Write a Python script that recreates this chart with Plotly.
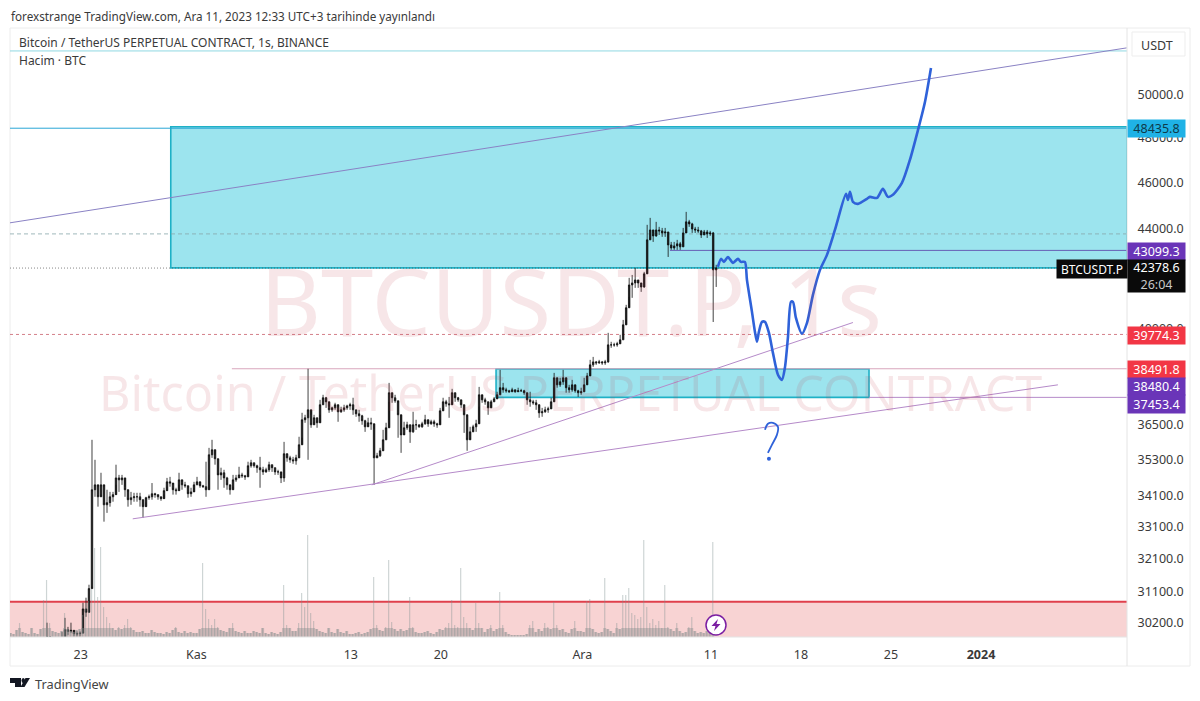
import datetime as dt
import numpy as np
import pandas as pd
import plotly.graph_objects as go

# price bars (log scale, USDT)
bar_high = [
    30200, 29700, 29700, 29700, 29790, 29930, 30340, 30080, 30200, 29940,
    29950, 29950, 30780, 30930, 31315, 35965, 35285, 34390, 34850, 34390,
    34290, 34220, 34220, 35120, 34780, 34780, 34390, 34220, 34220, 34190,
    34190, 34190, 33800, 34060, 34130, 34510, 34190, 34130, 34060, 34355,
    34680, 34715, 34450, 34355, 34850, 34550, 34550, 34355, 34355, 34550,
    34715, 34510, 34450, 35220, 35690, 35965, 35455, 35285, 35020, 34950,
    34715, 34390, 34780, 34780, 35050, 34850, 34780, 35220, 35285, 35185,
    35120, 35385, 35050, 35020, 35220, 35120, 35020, 34950, 34780, 35895,
    35455, 35420, 35385, 35455, 36070, 36905, 36835, 38490, 36835, 36835,
    36730, 37365, 37545, 37470, 37120, 37120, 37260, 37120, 37120, 37190,
    37190, 37260, 37440, 37010, 37010, 36835, 36660, 36730, 36730, 36345,
    35520, 35690, 36310, 36555, 37975, 37620, 37545, 37260, 36380, 36590,
    36590, 36485, 36940, 36660, 36485, 36590, 36835, 36590, 36660, 36660,
    36555, 37080, 37440, 37365, 37470, 37760, 37620, 37470, 37365, 37190,
    36765, 36415, 36485, 36660, 37830, 37440, 37440, 37295, 37365, 37470,
    37655, 38450, 37975, 37800, 37725, 37800, 37725, 37800, 37760, 37725,
    37620, 37655, 37365, 37365, 37080, 37080, 37120, 37120, 37440, 38340,
    38160, 38160, 38450, 37975, 37905, 38085, 37830, 37725, 37800, 38160,
    38340, 38820, 38930, 38780, 38820, 38780, 38820, 39835, 39495, 39460,
    39495, 39760, 40330, 40915, 41985, 42100, 42385, 41900, 41780, 42225,
    44165, 44460, 43825, 44290, 44080, 44035, 44035, 43865, 43450, 43450,
    43535, 43450, 44035, 44715, 44375, 44250, 44080, 44080, 43950, 43950,
    43950, 43910, 43865, 42510,
]
bar_low = [
    29800, 29500, 29500, 29500, 29500, 29700, 29800, 29850, 29900, 29800,
    29800, 29800, 30370, 30370, 30575, 31255, 34060, 33740, 34130, 33260,
    33540, 33740, 33900, 34450, 34220, 34450, 34060, 33740, 33800, 33900,
    33900, 33740, 33380, 33870, 33965, 33965, 34030, 33965, 33930, 34130,
    34390, 34390, 34130, 34130, 34450, 34290, 34355, 34030, 34060, 34355,
    34450, 34355, 34355, 34060, 34780, 35350, 35120, 34290, 34615, 34355,
    34290, 34130, 34390, 34550, 34680, 34680, 34615, 34950, 35020, 35020,
    34850, 34355, 34780, 34850, 34880, 34880, 34780, 34780, 34510, 34550,
    35220, 35185, 35150, 35120, 35385, 36035, 36555, 35285, 36380, 36590,
    36380, 36835, 37190, 37080, 36905, 36940, 37010, 36590, 36905, 36940,
    37010, 37010, 36835, 36765, 36590, 36485, 36240, 36485, 36310, 34450,
    35350, 35385, 35625, 35965, 37295, 37260, 37260, 36035, 35520, 36205,
    36310, 35860, 36205, 36310, 36380, 36380, 36485, 36415, 36485, 36415,
    36380, 36660, 37080, 37120, 36730, 37295, 37295, 37295, 37080, 36205,
    35590, 36035, 36310, 36240, 37120, 37260, 37190, 36835, 37190, 37295,
    37440, 37545, 37620, 37620, 37620, 37655, 37620, 37655, 37655, 37545,
    37190, 37120, 37190, 37010, 36730, 36765, 36905, 36905, 37080, 37800,
    37800, 37830, 37905, 37620, 37620, 37655, 37620, 37470, 37545, 37655,
    38160, 38340, 38560, 38635, 38670, 38635, 38635, 38710, 39270, 39310,
    39310, 39460, 39570, 40330, 41225, 41190, 41585, 41585, 41425, 41585,
    42225, 43615, 43450, 43660, 43740, 43660, 43660, 42830, 43120, 43120,
    43120, 43120, 43450, 43865, 44080, 43825, 43825, 43825, 43615, 43740,
    43615, 43700, 40250, 41620,
]
bar_close = [
    29800, 29600, 29600, 29600, 29600, 29750, 30000, 29950, 29980, 29880,
    29880, 29900, 30600, 30500, 31200, 34290, 34450, 34060, 34450, 33800,
    33870, 34060, 34130, 34680, 34615, 34680, 34290, 33965, 34030, 34060,
    34060, 33965, 33740, 34030, 34060, 34160, 34130, 34060, 34000, 34260,
    34550, 34510, 34290, 34260, 34615, 34450, 34420, 34160, 34220, 34450,
    34550, 34420, 34390, 34290, 35455, 35625, 35320, 34780, 34850, 34680,
    34450, 34290, 34615, 34680, 34780, 34750, 34715, 35085, 35185, 35085,
    35020, 34950, 34880, 34950, 35120, 35020, 34880, 34880, 34680, 35490,
    35350, 35285, 35250, 35350, 35795, 36660, 36730, 37010, 36485, 36730,
    36555, 37190, 37440, 37295, 37010, 37080, 37190, 36940, 37010, 37080,
    37150, 37190, 37010, 36870, 36800, 36625, 36415, 36555, 36520, 35350,
    35420, 35590, 35965, 36380, 37620, 37440, 37330, 36835, 36135, 36380,
    36485, 36240, 36485, 36485, 36415, 36520, 36660, 36520, 36590, 36520,
    36485, 36975, 37295, 37225, 37190, 37620, 37440, 37365, 37190, 36835,
    35965, 36240, 36415, 36520, 37545, 37365, 37295, 37080, 37295, 37400,
    37545, 37800, 37725, 37690, 37655, 37725, 37655, 37690, 37690, 37620,
    37365, 37295, 37260, 37190, 36905, 36940, 37010, 37045, 37295, 38160,
    37905, 38015, 38160, 37800, 37725, 37905, 37690, 37620, 37655, 37905,
    38230, 38635, 38745, 38710, 38745, 38710, 38745, 39380, 39380, 39380,
    39420, 39570, 40140, 40800, 41700, 41780, 41900, 41780, 41620, 42145,
    43535, 43950, 43700, 43950, 43910, 43825, 43865, 43325, 43200, 43285,
    43370, 43245, 43825, 44290, 44205, 43990, 43950, 43910, 43740, 43865,
    43780, 43825, 42305, 42378.6,
]
bar_start = "2023-10-20 09:00"

# volume, no scale on the picture so the unit is arbitrary
volume = [
    4, 3, 7, 14, 5, 4, 3, 9, 4, 3,
    8, 37, 57, 14, 6, 5, 4, 6, 24, 8,
    6, 5, 7, 8, 22, 30, 36, 48, 89, 40,
    90, 30, 20, 14, 9, 7, 10, 8, 12, 18,
    10, 7, 5, 5, 6, 4, 4, 7, 5, 4,
    4, 3, 5, 4, 7, 10, 5, 4, 6, 4,
    5, 4, 4, 8, 74, 28, 18, 12, 18, 10,
    7, 6, 5, 9, 14, 6, 5, 4, 6, 4,
    4, 6, 5, 4, 9, 4, 3, 5, 4, 3,
    5, 52, 12, 9, 6, 6, 14, 44, 30, 102,
    24, 16, 8, 6, 5, 4, 9, 5, 4, 8,
    5, 4, 6, 3, 3, 4, 5, 3, 4, 5,
    8, 60, 12, 7, 6, 10, 77, 15, 8, 6,
    8, 6, 7, 40, 10, 5, 4, 4, 5, 6,
    4, 3, 5, 8, 7, 10, 14, 37, 12, 10,
    69, 20, 14, 9, 7, 34, 14, 9, 5, 8,
    12, 6, 8, 45, 12, 5, 3, 2, 2, 2,
    2, 2, 3, 12, 16, 5, 8, 6, 14, 10,
    8, 35, 12, 7, 8, 5, 4, 8, 16, 6,
    6, 5, 36, 38, 8, 5, 4, 5, 59, 8,
    6, 4, 14, 8, 42, 42, 49, 24, 22, 18,
    20, 97, 30, 14, 18, 12, 16, 9, 52, 10,
    8, 6, 14, 6, 4, 5, 10, 20, 6, 4,
    5, 4, 6, 7, 95,
]
volume_start = "2023-10-17 13:00"

# hand drawn forecast, days after Dec 11 and price
forecast_days = [0.54, 0.78, 1.01, 1.32, 1.71, 2.10, 2.33, 2.64, 2.80, 3.19, 3.42, 3.58, 3.73, 3.97, 4.20, 4.51,
                 4.82, 5.21, 5.52, 5.75, 5.99, 6.22, 6.38, 6.61, 7.08, 7.47, 7.93, 8.48, 9.02, 9.64, 10.50, 10.65,
                 10.81, 11.04, 11.43, 12.13, 12.36, 12.91, 13.37, 13.76, 14.15, 14.85, 15.47, 16.10, 16.64, 17.11]
forecast_price = [42425, 42750, 42630, 42830, 42590, 42750, 42630, 42630, 41900, 40640, 39875, 39495, 39875, 40255,
                  40255, 39835, 39080, 38270, 38085, 38525, 39685, 41030, 41030, 40405, 39800, 40215, 41305, 42305,
                  42915, 43950, 45490, 45230, 45580, 45145, 45060, 45275, 45360, 45315, 45710, 45360, 45450, 45970,
                  46990, 48357, 49667, 51306]
question_days = [4.20, 4.43, 4.82, 5.21, 5.13, 4.74, 4.43]
question_price = [36310, 36520, 36555, 36415, 36135, 35795, 35520]
question_dot = (4.51, 35320)

# trend lines, (start, end)
channel_dates = ["2023-10-17 12:00", "2024-01-12 08:00"]
channel_price = [44250, 52300]
support_a_dates = ["2023-10-27 01:00", "2024-01-06 23:30"]
support_a_price = [33350, 37905]
support_b_dates = ["2023-11-14 15:00", "2023-12-22 01:00"]
support_b_price = [34450, 40230]

# levels
top_line = 52146
box_top, box_bottom = 48500, 42385
box_left = "2023-10-30 00:00"
small_top, small_bottom = 38480.4, 37453.4
small_left, small_right = "2023-11-24 07:00", "2023-12-23 07:00"
level_cyan = 48435.8
level_purple = 43099.3
level_purple_from = "2023-12-07 19:30"
level_last = 42378.6
level_grey = 43784
level_red_dash = 39774.3
level_pink = 38491.8
level_pink_from = "2023-11-03 18:00"
level_low = 37453.4
band_top = 30810

x_start, x_end = "2023-10-17 12:00", "2024-01-12 08:24"
y_bottom, y_top = 29790, 53200

tick_prices = [50000, 48000, 46000, 44000, 40000, 36500, 35300, 34100, 33100, 32100, 31100, 30200]
tick_dates = ["2023-10-23", "2023-11-01", "2023-11-13", "2023-11-20", "2023-12-01",
              "2023-12-11", "2023-12-18", "2023-12-25", "2024-01-01"]
tick_names = ["23", "Kas", "13", "20", "Ara", "11", "18", "25", "<b>2024</b>"]

FONT = "Noto Sans"
BLUE = "#2f62d9"
WATERMARK = "rgba(190,60,80,0.13)"


def from_dec11(days):
    return [dt.datetime(2023, 12, 11) + dt.timedelta(days=d) for d in days]


def px(x, y):
    # window pixels to paper coordinates
    return (x - 10) / 1117, (637 - y) / 607


def poly(points):
    pts = [px(*p) for p in points]
    return "M " + " L ".join(f"{a:.5f},{b:.5f}" for a, b in pts) + " Z"


bar_dates = pd.date_range(bar_start, periods=len(bar_close), freq="336min")
volume_dates = pd.date_range(volume_start, periods=len(volume), freq="336min")
bar_open = [bar_close[0]] + bar_close[:-1]

fig = go.Figure()

# wide low part so the foot of the volume reads as a solid mass, thin full bars for the spikes
fig.add_trace(go.Bar(x=volume_dates, y=[min(v, 9) for v in volume], yaxis="y2", width=20160000,
                     marker=dict(color="rgba(135,140,140,0.42)", line_width=0)))
fig.add_trace(go.Bar(x=volume_dates, y=volume, yaxis="y2", width=8000000,
                     marker=dict(color="rgba(125,145,145,0.38)", line_width=0)))

fig.add_trace(go.Scatter(x=channel_dates, y=channel_price, mode="lines", line=dict(color="#8a82c4", width=1)))
fig.add_trace(go.Scatter(x=support_a_dates, y=support_a_price, mode="lines", line=dict(color="#b58ac9", width=1)))
fig.add_trace(go.Scatter(x=support_b_dates, y=support_b_price, mode="lines", line=dict(color="#b58ac9", width=1)))

fig.add_trace(go.Candlestick(x=bar_dates, open=bar_open, high=bar_high, low=bar_low, close=bar_close,
                             whiskerwidth=0,
                             increasing=dict(line=dict(color="#111111", width=0.8), fillcolor="#111111"),
                             decreasing=dict(line=dict(color="#111111", width=0.8), fillcolor="#111111")))

fig.add_trace(go.Scatter(x=from_dec11(forecast_days), y=forecast_price, mode="lines",
                         line=dict(color=BLUE, width=2.6, shape="spline", smoothing=0.7)))
fig.add_trace(go.Scatter(x=from_dec11(question_days), y=question_price, mode="lines",
                         line=dict(color=BLUE, width=1.8, shape="spline")))
fig.add_trace(go.Scatter(x=from_dec11([question_dot[0]]), y=[question_dot[1]], mode="markers",
                         marker=dict(color=BLUE, size=4)))

shapes = []


def hline(price, color, width=1, dash="solid", x0=x_start, layer="below"):
    shapes.append(dict(type="line", xref="x", yref="y", x0=x0, x1=x_end, y0=price, y1=price,
                       line=dict(color=color, width=width, dash=dash), layer=layer))


# pale red band behind the volume
shapes.append(dict(type="rect", xref="x", yref="y", x0=x_start, x1=x_end, y0=y_bottom, y1=band_top,
                   fillcolor="#f8d3d3", line=dict(width=0), layer="below"))
hline(band_top, "#e0404c", 2)

# the two zones
shapes.append(dict(type="rect", xref="x", yref="y", x0=box_left, x1=x_end, y0=box_bottom, y1=box_top,
                   fillcolor="#9ce4ee", line=dict(color="#1eb1c6", width=1.6), layer="below"))
shapes.append(dict(type="rect", xref="x", yref="y", x0=small_left, x1=small_right, y0=small_bottom, y1=small_top,
                   fillcolor="#9ce4ee", line=dict(color="#1eb1c6", width=1.6), layer="below"))

hline(top_line, "#8fd8e2", 1)
hline(level_cyan, "#2aa6d6", 1)
hline(level_grey, "#86a6ab", 0.8, "4px,3px")
hline(level_last, "#555555", 0.7, "1px,2px")
hline(level_purple, "#6660b4", 1, x0=level_purple_from)
hline(level_red_dash, "#c9606c", 0.8, "3px,3px")
hline(level_pink, "#d9a6bd", 1.2, x0=level_pink_from)
hline(level_low, "#b58ac9", 1, x0=small_right)

# frame of the chart and of the price scale
shapes.append(dict(type="rect", xref="paper", yref="paper", x0=0, y0=px(0, 666)[1], x1=px(1190, 0)[0], y1=px(0, 28)[1],
                   line=dict(color="#ececec", width=1), layer="below"))
shapes.append(dict(type="line", xref="paper", yref="paper", x0=1, x1=1, y0=px(0, 666)[1], y1=px(0, 28)[1],
                   line=dict(color="#e4e4e4", width=1), layer="above"))
shapes.append(dict(type="line", xref="paper", yref="paper", x0=0, x1=1, y0=0, y1=0,
                   line=dict(color="#e4e4e4", width=1), layer="above"))

# lightning badge
cx0, cy0 = px(706, 635)
cx1, cy1 = px(726, 615)
shapes.append(dict(type="circle", xref="paper", yref="paper", x0=cx0, y0=cy0, x1=cx1, y1=cy1,
                   fillcolor="white", line=dict(color="#7b1fa2", width=1.5), layer="above"))
shapes.append(dict(type="path", xref="paper", yref="paper", fillcolor="#7b1fa2", line=dict(width=0), layer="above",
                   path=poly([(718, 619), (711.5, 626), (715.5, 626), (714, 631), (720.5, 624), (716.5, 624)])))

# TradingView logo
for pts in ([(10, 678), (21, 678), (21, 687), (15, 687), (15, 683), (10, 683)],
            [(25.5, 678), (30, 678), (24.5, 687), (20.5, 687)]):
    shapes.append(dict(type="path", xref="paper", yref="paper", fillcolor="#131722", line=dict(width=0),
                       path=poly(pts)))
dx0, dy0 = px(21.5, 683)
dx1, dy1 = px(25, 678)
shapes.append(dict(type="circle", xref="paper", yref="paper", x0=dx0, y0=dy0, x1=dx1, y1=dy1,
                   fillcolor="#131722", line=dict(width=0)))

annotations = []


def text(x, y, s, size=12.5, color="#3a3a3a", anchor="left"):
    ax, ay = px(x, y)
    annotations.append(dict(xref="paper", yref="paper", x=ax, y=ay, text=s, showarrow=False, borderpad=0,
                            xanchor=anchor, yanchor="middle", font=dict(family=FONT, size=size, color=color)))


def tag(y0, y1, s, bg, fg="white", x0=1128, x1=1185, size=12.5):
    ax, ay = px((x0 + x1) / 2, (y0 + y1) / 2)
    annotations.append(dict(xref="paper", yref="paper", x=ax, y=ay, text=s, showarrow=False,
                            xanchor="center", yanchor="middle", width=x1 - x0, height=y1 - y0,
                            bgcolor=bg, borderpad=0, font=dict(family=FONT, size=size, color=fg)))


text(571, 300, "BTCUSDT.P, 1s", 94, WATERMARK, "center")
text(570, 392, "Bitcoin / TetherUS PERPETUAL CONTRACT", 48.5, WATERMARK, "center")

text(10, 16, "forexstrange TradingView.com, Ara 11, 2023 12:33 UTC+3 tarihinde yayınlandı", 11.7)
text(18, 43, "Bitcoin / TetherUS PERPETUAL CONTRACT, 1s, BINANCE", 12)
text(18, 60, "Hacim · BTC", 12)
text(34, 684, "TradingView", 12.8, "#444444")

tag(120.5, 137, "48435.8", "#1fb2e6", "#0e3a4a")
tag(243, 260, "43099.3", "#6a35b8")
tag(260, 292, "42378.6<br><span style='color:#c8c8c8'>26:04</span>", "#0a0a0a")
tag(260, 278, "BTCUSDT.P", "#0a0a0a", x0=1057, x1=1127, size=12)
tag(327, 344, "39774.3", "#f23645")
tag(361, 378, "38491.8", "#f23645")
tag(378, 395, "38480.4", "#6a35b8")
tag(395, 413, "37453.4", "#6a35b8")

# USDT button
ux0, uy0 = px(1132, 56)
ux1, uy1 = px(1185, 32)
shapes.append(dict(type="rect", xref="paper", yref="paper", x0=ux0, y0=uy0, x1=ux1, y1=uy1,
                   fillcolor="white", line=dict(color="#ededed", width=1)))
text(1157, 45, "USDT", 12.5, "#3a3a3a", "center")

# the page adds 8px of body margin, so the figure is 8px smaller on both sides
fig.update_layout(
    width=1192, height=693,
    margin=dict(l=2, r=73, t=22, b=64),
    paper_bgcolor="white", plot_bgcolor="white",
    showlegend=False,
    barmode="overlay",
    shapes=shapes, annotations=annotations,
    font=dict(family=FONT, color="#3a3a3a", size=12.5),
    xaxis=dict(type="date", range=[x_start, x_end], showgrid=False, zeroline=False,
               tickmode="array", tickvals=tick_dates, ticktext=tick_names,
               ticks="outside", ticklen=6, tickcolor="rgba(0,0,0,0)",
               rangeslider=dict(visible=False)),
    yaxis=dict(type="log", side="right", range=[np.log10(y_bottom), np.log10(y_top)],
               showgrid=False, zeroline=False, tickmode="array", tickvals=tick_prices,
               ticktext=[f"{t:.1f}" for t in tick_prices],
               ticks="outside", ticklen=7, tickcolor="rgba(0,0,0,0)"),
    yaxis2=dict(overlaying="y", side="left", range=[0, 607], visible=False),
)

fig.write_html("out.html")
